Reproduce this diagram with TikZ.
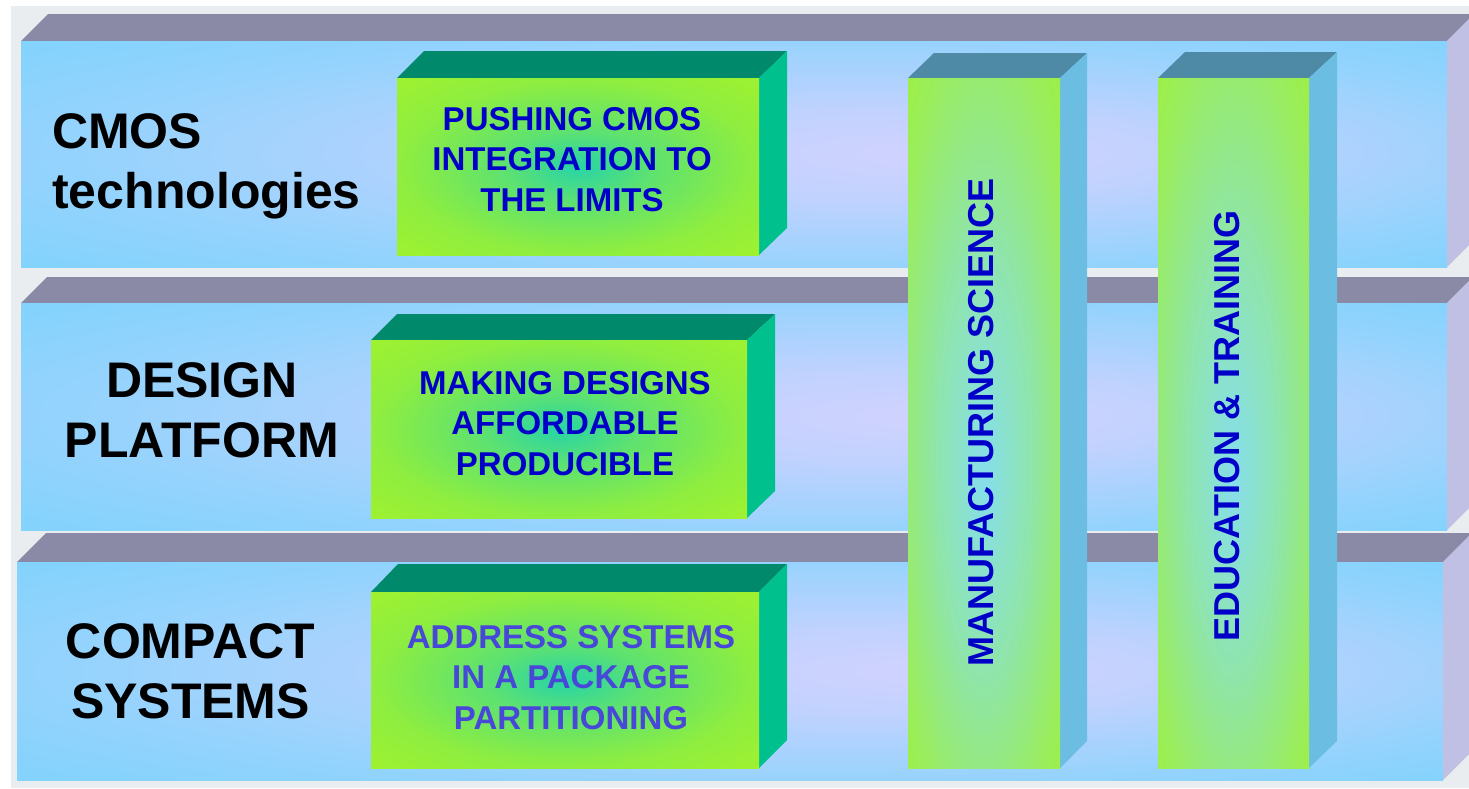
\documentclass[tikz,border=0pt]{standalone}
\usepackage{fontspec}
\setmainfont{Liberation Sans}
\definecolor{bggray}{HTML}{E9EDF0}
\definecolor{laytop}{HTML}{8A89A6}
\definecolor{layside}{HTML}{C0C0E4}
\definecolor{layblue}{HTML}{7AD3FD}
\definecolor{laylav}{HTML}{D2D2FE}
\definecolor{boxtop}{HTML}{00896A}
\definecolor{boxside}{HTML}{00C08E}
\definecolor{lime}{HTML}{A0F22E}
\definecolor{bxteal}{HTML}{26D4A8}
\definecolor{piltop}{HTML}{4E8AA5}
\definecolor{pilside}{HTML}{6BBEE2}
\definecolor{pilcyan}{HTML}{86DEEC}
\definecolor{txtblue}{HTML}{0000C8}
\definecolor{txtpurple}{HTML}{4848D8}
\pgfdeclareradialshading{layshade}{\pgfpoint{8bp}{0bp}}{color(0bp)=(laylav); color(10bp)=(laylav!80!layblue); color(26bp)=(layblue!70!laylav); color(40bp)=(layblue)}
\pgfdeclareradialshading{boxshade}{\pgfpoint{0bp}{0bp}}{color(0bp)=(bxteal); color(10bp)=(bxteal!55!lime); color(24bp)=(lime!85!bxteal); color(36bp)=(lime)}
\pgfdeclareradialshading{pilshade}{\pgfpoint{0bp}{-4bp}}{color(0bp)=(pilcyan); color(16bp)=(pilcyan!65!lime); color(30bp)=(lime!75!pilcyan); color(42bp)=(lime)}
\tikzset{
  laytopface/.style={fill=laytop},
  laysideface/.style={fill=layside},
  layfront/.style={shading=layshade},
  boxtopface/.style={fill=boxtop},
  boxsideface/.style={fill=boxside},
  boxfront/.style={shading=boxshade},
  piltopface/.style={fill=piltop},
  pilsideface/.style={fill=pilside},
  pilfront/.style={shading=pilshade},
  lbl/.style={inner sep=0pt, font=\bfseries\fontsize{50}{60}\selectfont, text=black},
  boxtxt/.style={inner sep=0pt, align=center, font=\bfseries\fontsize{33}{40.5}\selectfont, text=txtblue},
  piltxt/.style={inner sep=0pt, rotate=90, font=\bfseries\fontsize{36}{40}\selectfont, text=txtblue}
}
\begin{document}
\begin{tikzpicture}[x=1pt,y=-1pt]
\useasboundingbox (0,0) rectangle (1469,788);
\fill[white] (0,0) rectangle (1469,788);
\fill[bggray] (11,6) rectangle (1469,788);
% layer 1
\fill[laytopface] (21,41)--(48,14)--(1474,14)--(1447,41)--cycle;
\path[layfront] (21,41) rectangle (1447,267);
\fill[laysideface] (1447,41)--(1474,14)--(1474,240)--(1447,267)--cycle;
% layer 2
\fill[laytopface] (21,303)--(47,277)--(1473,277)--(1447,303)--cycle;
\path[layfront] (21,303) rectangle (1447,530);
\fill[laysideface] (1447,303)--(1473,277)--(1473,504)--(1447,530)--cycle;
% layer 3
\fill[laytopface] (17,562)--(46,533)--(1472,533)--(1443,562)--cycle;
\path[layfront] (17,562) rectangle (1443,780);
\fill[laysideface] (1443,562)--(1472,533)--(1472,751)--(1443,780)--cycle;
% box 1
\fill[boxtopface] (397,78)--(424,51)--(787,51)--(759,78)--cycle;
\fill[boxsideface] (759,78)--(787,51)--(787,228)--(759,255)--cycle;
\path[boxfront] (397,78) rectangle (759,255);
% box 2
\fill[boxtopface] (371,340)--(397,314)--(775,314)--(747,340)--cycle;
\fill[boxsideface] (747,340)--(775,314)--(775,491)--(747,518)--cycle;
\path[boxfront] (371,340) rectangle (747,518);
% box 3
\fill[boxtopface] (371,592)--(398,564)--(787,564)--(759,592)--cycle;
\fill[boxsideface] (759,592)--(787,564)--(787,740)--(759,768)--cycle;
\path[boxfront] (371,592) rectangle (759,768);
% pillar 1
\fill[piltopface] (908,78)--(934,53)--(1087,53)--(1060,78)--cycle;
\fill[pilsideface] (1060,78)--(1087,53)--(1087,741)--(1060,768)--cycle;
\path[pilfront] (908,78) rectangle (1060,768);
% pillar 2
\fill[piltopface] (1158,78)--(1185,52)--(1337,52)--(1309,78)--cycle;
\fill[pilsideface] (1309,78)--(1337,52)--(1337,741)--(1309,768)--cycle;
\path[pilfront] (1158,78) rectangle (1309,768);
% texts
\node[lbl, anchor=north west, align=left] (cmos) at (52,113) {CMOS\\technologies};
\node[lbl, anchor=north, align=center] (design) at (202,362) {DESIGN\\PLATFORM};
\node[lbl, anchor=north, align=center] (compact) at (190.5,623) {COMPACT\\SYSTEMS};
\node[boxtxt, anchor=north] (push) at (572,107) {PUSHING CMOS\\INTEGRATION TO\\THE LIMITS};
\node[boxtxt, anchor=north] (making) at (565,371) {MAKING DESIGNS\\AFFORDABLE\\PRODUCIBLE};
\node[boxtxt, anchor=north, text=txtpurple] (address) at (571,625) {ADDRESS SYSTEMS\\IN A PACKAGE\\PARTITIONING};
\node[piltxt] (manuf) at (981,422) {MANUFACTURING SCIENCE};
\node[piltxt] (educ) at (1227.5,426) {EDUCATION \& TRAINING};
\end{tikzpicture}
\end{document}
